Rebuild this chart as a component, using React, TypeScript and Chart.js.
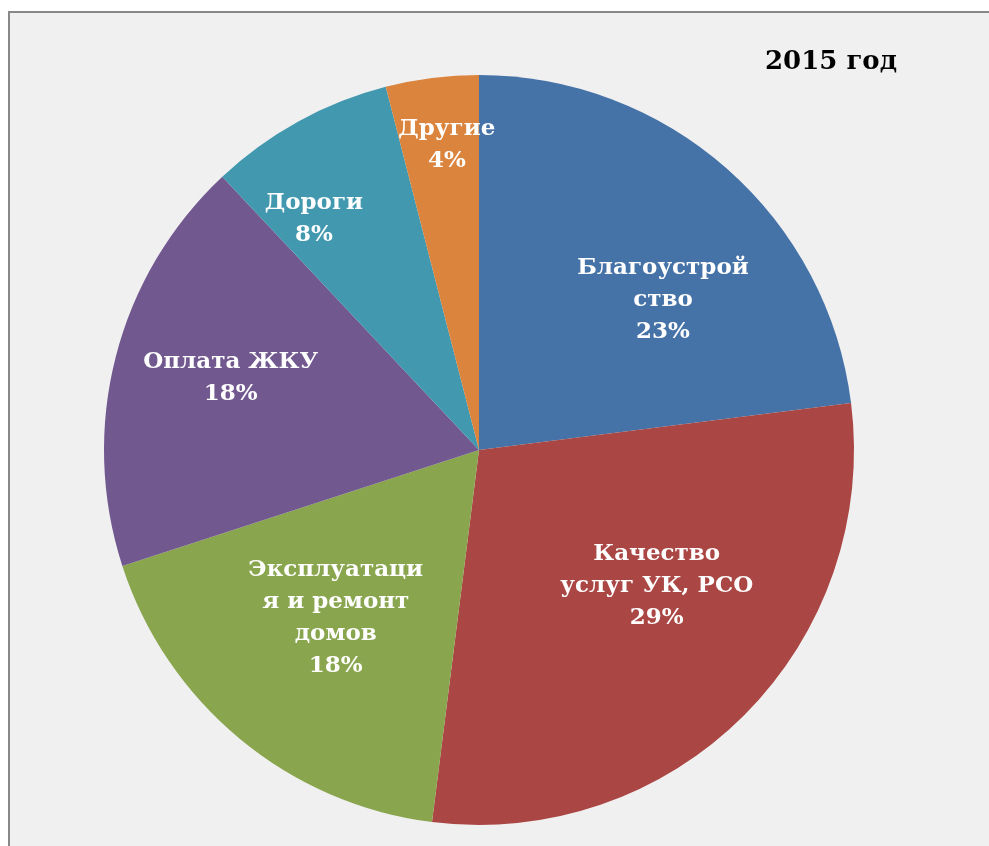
import React, { useEffect, useRef } from "react";
import { Chart, registerables } from "chart.js";

Chart.register(...registerables);

const categories = [
  "Благоустройство",
  "Качество услуг УК, РСО",
  "Эксплуатация и ремонт домов",
  "Оплата ЖКУ",
  "Дороги",
  "Другие",
];
const labelLines = [
  ["Благоустрой", "ство"],
  ["Качество", "услуг УК, РСО"],
  ["Эксплуатаци", "я и ремонт", "домов"],
  ["Оплата ЖКУ"],
  ["Дороги"],
  ["Другие"],
];
const values = [23, 29, 18, 18, 8, 4];
const colors = ["#4572A7", "#AA4643", "#89A54E", "#71588F", "#4198AF", "#DB843D"];
const titleText = "2015 год";

// label placement tweaks (angle delta in degrees, radial fraction)
const LABEL_PLACE = [
  [9.2, 0.635],
  [-7.8, 0.595],
  [1.0, 0.587],
  [1.9, 0.69],
  [-6.6, 0.76],
  [1.2, 0.82],
];

const FONT = "DejaVu Serif";

const labelPlugin = {
  id: "sliceLabels",
  afterDatasetsDraw(chart: any) {
    const ctx = chart.ctx;
    const meta = chart.getDatasetMeta(0);
    const data = chart.data.datasets[0].data as number[];
    const total = data.reduce((a, b) => a + b, 0);
    ctx.save();
    ctx.fillStyle = "#ffffff";
    ctx.textAlign = "center";
    ctx.textBaseline = "middle";
    ctx.font = `bold 23px "${FONT}"`;
    meta.data.forEach((arc: any, i: number) => {
      const p = arc.getProps(["x", "y", "startAngle", "endAngle", "outerRadius"], true);
      const [dA, frac] = LABEL_PLACE[i];
      const mid = (p.startAngle + p.endAngle) / 2 + (dA * Math.PI) / 180;
      const r = p.outerRadius * frac;
      const cx = p.x + Math.cos(mid) * r;
      const cy = p.y + Math.sin(mid) * r;
      const lines = [...labelLines[i], Math.round((data[i] / total) * 100) + "%"];
      const lh = 32;
      const startY = cy - ((lines.length - 1) * lh) / 2 + 1;
      lines.forEach((t, j) => ctx.fillText(t, cx, startY + j * lh));
    });
    ctx.restore();
  },
  afterDraw(chart: any) {
    const ctx = chart.ctx;
    ctx.save();
    ctx.fillStyle = "#000000";
    ctx.textAlign = "center";
    ctx.textBaseline = "middle";
    ctx.font = `bold 26px "${FONT}"`;
    ctx.fillText(titleText, 821, 49);
    ctx.restore();
  },
};

export default function App() {
  const ref = useRef<HTMLCanvasElement>(null);
  useEffect(() => {
    if (!ref.current) return;
    const chart = new Chart(ref.current, {
      type: "pie",
      data: {
        labels: categories,
        datasets: [
          {
            data: values,
            backgroundColor: colors,
            borderWidth: 0,
          },
        ],
      },
      options: {
        animation: false,
        responsive: false,
        maintainAspectRatio: false,
        layout: { padding: { left: 94, right: 135, top: 62, bottom: 21 } },
        plugins: {
          legend: { display: false },
          tooltip: { enabled: false },
          title: { display: false },
        },
      },
      plugins: [labelPlugin],
    });
    return () => chart.destroy();
  }, []);
  return (
    <div style={{ position: "absolute", left: 0, top: 0, width: 989, height: 846, background: "#ffffff", overflow: "hidden" }}>
      <div
        style={{
          position: "absolute",
          left: 8,
          top: 11,
          width: 981,
          height: 835,
          background: "#F0F0F0",
          borderLeft: "2px solid #888888",
          borderTop: "2px solid #888888",
          boxSizing: "border-box",
        }}
      >
        <canvas ref={ref} width={979} height={833} style={{ display: "block" }} />
      </div>
    </div>
  );
}
